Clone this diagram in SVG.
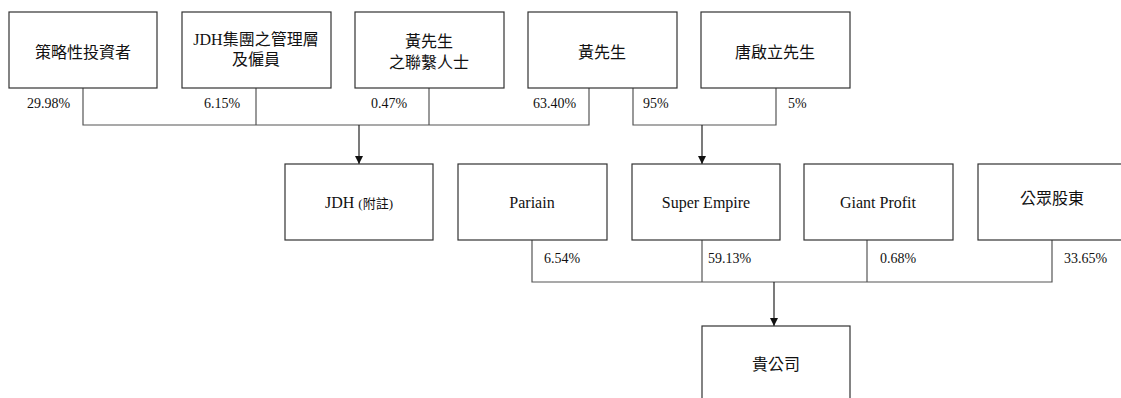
<svg xmlns="http://www.w3.org/2000/svg" width="1121" height="398" viewBox="0 0 1121 398">
<style>
.box{fill:#fff;stroke:#333;stroke-width:1.2}
.t{font-family:"Liberation Serif","Times New Roman",Tinos,"DejaVu Serif","Noto Sans CJK TC",serif;font-size:16px;fill:#111;text-anchor:middle}
.p{font-family:"Liberation Serif","Times New Roman",Tinos,"DejaVu Serif","Noto Sans CJK TC",serif;font-size:14px;fill:#111}
.ln{fill:none;stroke:#555;stroke-width:1.2}
.ar{fill:none;stroke:#222;stroke-width:1.2;marker-end:url(#ah)}
</style>
<defs>
<marker id="ah" viewBox="0 0 10 10" refX="10" refY="5" markerWidth="8" markerHeight="8" markerUnits="userSpaceOnUse" orient="auto">
<path d="M0,0 L10,5 L0,10 z" fill="#111"/>
</marker>
</defs>
<rect width="1121" height="398" fill="#fff"/>
<g id="connectors">
<polyline class="ln" points="83,88 83,125 589,125 589,88"/>
<line class="ln" x1="256" y1="88" x2="256" y2="125"/>
<line class="ln" x1="429" y1="88" x2="429" y2="125"/>
<line class="ar" x1="359" y1="125" x2="359" y2="164"/>
<polyline class="ln" points="633,88 633,125 776,125 776,88"/>
<line class="ar" x1="702" y1="125" x2="702" y2="164"/>
<polyline class="ln" points="532,240 532,282 1052,282 1052,240"/>
<line class="ln" x1="702" y1="240" x2="702" y2="282"/>
<line class="ln" x1="867" y1="240" x2="867" y2="282"/>
<line class="ar" x1="774" y1="282" x2="774" y2="326"/>
<text class="p" x="27" y="108">29.98%</text>
<text class="p" x="204" y="108">6.15%</text>
<text class="p" x="371" y="108">0.47%</text>
<text class="p" x="533" y="108">63.40%</text>
<text class="p" x="643" y="108">95%</text>
<text class="p" x="788" y="108">5%</text>
<text class="p" x="544" y="263">6.54%</text>
<text class="p" x="708" y="263">59.13%</text>
<text class="p" x="880" y="263">0.68%</text>
<text class="p" x="1064" y="263">33.65%</text>
</g>
<g id="n1"><rect class="box" x="9" y="12" width="148" height="76"/><text class="t" x="83" y="58">策略性投資者</text></g>
<g id="n2"><rect class="box" x="182" y="12" width="149" height="76"/><text class="t" x="256" y="45">JDH集團之管理層</text><text class="t" x="256" y="65">及僱員</text></g>
<g id="n3"><rect class="box" x="355" y="12" width="149" height="76"/><text class="t" x="429" y="47">黃先生</text><text class="t" x="429" y="68">之聯繫人士</text></g>
<g id="n4"><rect class="box" x="528" y="12" width="149" height="76"/><text class="t" x="602" y="58">黃先生</text></g>
<g id="n5"><rect class="box" x="701" y="12" width="149" height="76"/><text class="t" x="775" y="58">唐啟立先生</text></g>
<g id="n6"><rect class="box" x="285" y="164" width="148" height="76"/><text class="t" x="359" y="208">JDH <tspan font-size="13">(附註)</tspan></text></g>
<g id="n7"><rect class="box" x="458" y="164" width="149" height="76"/><text class="t" x="532" y="208">Pariain</text></g>
<g id="n8"><rect class="box" x="632" y="164" width="148" height="76"/><text class="t" x="706" y="208">Super Empire</text></g>
<g id="n9"><rect class="box" x="804" y="164" width="149" height="76"/><text class="t" x="878" y="208">Giant Profit</text></g>
<g id="n10"><rect class="box" x="978" y="164" width="148" height="76"/><text class="t" x="1052" y="204">公眾股東</text></g>
<g id="n11"><rect class="box" x="702" y="326" width="148" height="80"/><text class="t" x="776" y="370">貴公司</text></g>
</svg>
